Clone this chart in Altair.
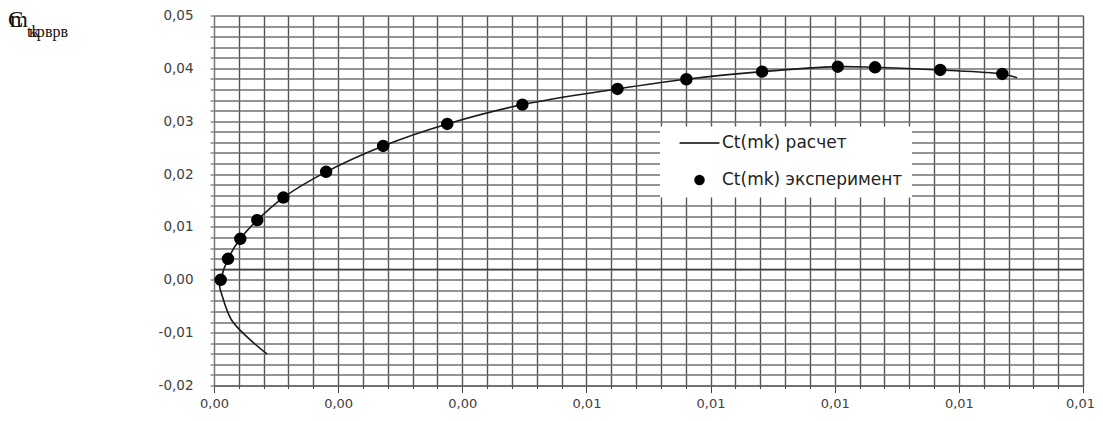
import altair as alt
import pandas as pd

# ---- data ----
SERIES = ["Ct(mk) расчет", "Ct(mk) эксперимент"]

EXP_X = [0.000108, 0.000226, 0.000424, 0.000698, 0.001118, 0.001806, 0.002726, 0.003758,
         0.004968, 0.0065, 0.00761, 0.00883, 0.01005, 0.01065, 0.0117, 0.0127]
EXP_Y = [0.0, 0.00397, 0.00775, 0.01129, 0.01556, 0.02042, 0.02533, 0.02949,
         0.03314, 0.03611, 0.03794, 0.03938, 0.04032, 0.0402, 0.0397, 0.03894]

CALC_X = [0.000855, 0.00055, 0.00028, 0.000118, 0.000092, 0.000108, 0.000226, 0.000424,
          0.000698, 0.001118, 0.001806, 0.002726, 0.003758, 0.004968, 0.0065, 0.00761,
          0.00883, 0.01005, 0.01065, 0.0117, 0.0127, 0.01294]
CALC_Y = [-0.01405, -0.0110, -0.00756, -0.00251, -0.00127, 0.0, 0.00397, 0.00775,
          0.01129, 0.01556, 0.02042, 0.02533, 0.02949, 0.03314, 0.03611, 0.03794,
          0.03938, 0.04032, 0.0402, 0.0397, 0.03894, 0.03824]

X_TICKS = [round(i * 0.0004, 4) for i in range(36)]
Y_TICKS = [round(-0.02 + i * 0.002, 3) for i in range(36)]
DARK_LINE = [0.002]

TITLE_BIG = ["C", "m"]
TITLE_SUB = ["tk", "кр", "врв"]

calc = pd.DataFrame({"x": CALC_X, "y": CALC_Y, "i": list(range(len(CALC_X)))})
exp = pd.DataFrame({"x": EXP_X, "y": EXP_Y, "s": [SERIES[1]] * len(EXP_X)})

x_major = "abs(datum.value/0.002 - round(datum.value/0.002)) < 1e-6"
y_major = "abs(datum.value*100 - round(datum.value*100)) < 1e-6"
fmt = "replace(replace(format(datum.value, '.2f'), '.', ','), '\u2212', '-')"

x_axis = alt.Axis(
    values=X_TICKS, title=None, grid=True, gridColor="#555555", gridWidth=1.4,
    labelExpr=f"{x_major} ? {fmt} : ''", labelOverlap=False, labelFlush=False,
    tickColor="#444", tickWidth=1,
    tickSize={"condition": {"test": x_major, "value": 7}, "value": 3},
    labelOffset={"condition": {"test": "datum.value > 0.0139", "value": -3}, "value": 0},
    domainColor="#555", labelFont="DejaVu Sans", labelFontSize=13,
    labelColor="#404040", labelPadding=5,
)
y_axis = alt.Axis(
    values=Y_TICKS, title=None, grid=True, gridColor="#707070", gridWidth=1.4,
    labelExpr=f"{y_major} ? {fmt} : ''", labelOverlap=False, labelFlush=False,
    tickColor="#555", tickSize=4, domainColor="#777",
    labelFont="DejaVu Sans", labelFontSize=13.5, labelColor="#404040", labelPadding=17,
)
x_scale = alt.Scale(domain=[0, 0.014], nice=False, zero=False)
y_scale = alt.Scale(domain=[-0.02, 0.05], nice=False, zero=False)

x_enc = alt.X("x:Q", scale=x_scale, axis=x_axis)
y_enc = alt.Y("y:Q", scale=y_scale, axis=y_axis)

dark = alt.Chart(pd.DataFrame({"y": DARK_LINE})).mark_rule(
    color="#222", strokeWidth=1
).encode(y=y_enc)

line = alt.Chart(calc).mark_line(
    color="#1a1a1a", strokeWidth=1.6, interpolate="catmull-rom"
).encode(x=x_enc, y=y_enc, order="i:Q")

LINE_SYMBOL = "M-3.8,-0.14H3.8V0.14H-3.8Z"

pts = alt.Chart(exp).mark_point(
    filled=True, size=120, fill="black", stroke="black", strokeWidth=1.5, opacity=1
).encode(
    x=x_enc, y=y_enc,
    shape=alt.Shape(
        "s:N",
        scale=alt.Scale(domain=SERIES, range=[LINE_SYMBOL, "circle"]),
        legend=alt.Legend(
            title=None, orient="none", legendX=446, legendY=111,
            fillColor="white", strokeColor="white", padding=8,
            symbolOffset=23, labelOffset=14, rowPadding=19, labelLimit=500,
            labelFont="DejaVu Sans", labelFontSize=17, labelColor="#222",
            symbolSize=110, symbolStrokeColor="black", symbolStrokeWidth=1.5,
            symbolFillColor="black",
            labelExpr="datum.label + '" + "\u00a0" * 14 + "'",
        ),
    ),
)

big = []
for t, dx in zip(TITLE_BIG, [-206, -204]):
    big.append(
        alt.Chart(pd.DataFrame({"t": [t]})).mark_text(
            font="Liberation Serif", fontSize=23, color="#111", align="left",
            baseline="alphabetic",
        ).encode(text="t:N", x=alt.value(dx), y=alt.value(11))
    )
sub = []
for t, dx in zip(TITLE_SUB, [-187, -185, -169]):
    sub.append(
        alt.Chart(pd.DataFrame({"t": [t]})).mark_text(
            font="Liberation Serif", fontSize=16, color="#111", align="left",
            baseline="alphabetic",
        ).encode(text="t:N", x=alt.value(dx), y=alt.value(21))
    )

chart = alt.layer(dark, line, pts, *big, *sub).properties(
    width=869, height=370,
    autosize=alt.AutoSizeParams(type="none"),
    padding={"left": 206, "top": 7.5, "right": 12, "bottom": 32},
).configure_view(
    stroke="#555", strokeWidth=1, strokeDash=[2, 1]
).configure(background="white")

chart.save("out.html", embed_options={"renderer": "svg", "actions": False})
